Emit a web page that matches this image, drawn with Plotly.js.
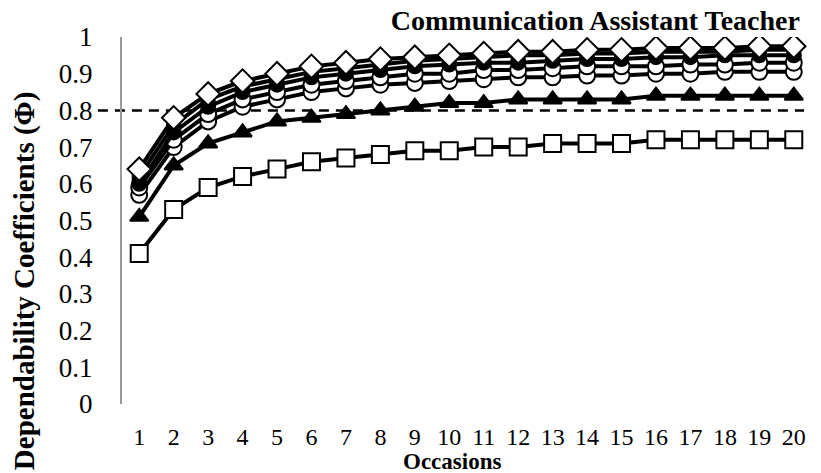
<!DOCTYPE html>
<html>
<head>
<meta charset="utf-8">
<script src="https://cdn.plot.ly/plotly-3.0.1.min.js"></script>
<style>html,body{margin:0;padding:0;background:#fff;}#chart{width:821px;height:473px;}</style>
</head>
<body>
<div id="chart"></div>
<script>
var occasions = [1,2,3,4,5,6,7,8,9,10,11,12,13,14,15,16,17,18,19,20];
var tickLabels = ["1","2","3","4","5","6","7","8","9","10","11","12","13","14","15","16","17","18","19","20"];
var seriesSquare   = [0.41,0.53,0.59,0.62,0.64,0.66,0.67,0.68,0.69,0.69,0.70,0.70,0.71,0.71,0.71,0.72,0.72,0.72,0.72,0.72];
var seriesTriangle = [0.51,0.65,0.71,0.74,0.77,0.78,0.79,0.80,0.81,0.82,0.82,0.83,0.83,0.83,0.83,0.84,0.84,0.84,0.84,0.84];
var seriesCircleA  = [0.57,0.70,0.77,0.81,0.83,0.85,0.86,0.87,0.875,0.88,0.885,0.89,0.89,0.895,0.895,0.90,0.90,0.905,0.905,0.905];
var seriesCircleB  = [0.59,0.72,0.79,0.83,0.85,0.87,0.88,0.89,0.90,0.90,0.91,0.91,0.915,0.92,0.92,0.92,0.925,0.925,0.93,0.93];
var seriesDotC     = [0.60,0.74,0.81,0.85,0.87,0.89,0.90,0.91,0.92,0.925,0.93,0.93,0.935,0.94,0.94,0.945,0.945,0.95,0.95,0.95];
var seriesDotD     = [0.62,0.76,0.83,0.865,0.885,0.905,0.915,0.925,0.935,0.94,0.945,0.95,0.95,0.955,0.955,0.96,0.96,0.96,0.965,0.965];
var seriesDiamond  = [0.64,0.78,0.845,0.88,0.90,0.92,0.93,0.94,0.945,0.95,0.955,0.96,0.96,0.965,0.965,0.97,0.97,0.97,0.975,0.975];
var yTicks = [0,0.1,0.2,0.3,0.4,0.5,0.6,0.7,0.8,0.9,1];
var yTickText = ["0","0.1","0.2","0.3","0.4","0.5","0.6","0.7","0.8","0.9","1"];
var threshold = 0.8;

function mk(y, symbol, fill, size) {
  return {
    x: occasions, y: y, type: 'scatter', mode: 'lines+markers',
    line: {color: '#000', width: 4},
    marker: {symbol: symbol, size: size, color: fill, line: {color: '#000', width: 2}},
    hoverinfo: 'skip', showlegend: false
  };
}
var data = [
  mk(seriesSquare, 'square', '#fff', 17),
  mk(seriesTriangle, 'triangle-up', '#000', 16),
  mk(seriesCircleA, 'circle', '#fff', 16),
  mk(seriesCircleB, 'circle', '#fff', 16),
  mk(seriesDotC, 'circle', '#000', 14),
  mk(seriesDotD, 'square', '#000', 13),
  mk(seriesDiamond, 'diamond', '#fff', 18)
];
var font = 'Liberation Serif, Times New Roman, serif';
var layout = {
  width: 821, height: 473,
  margin: {l: 122, r: 10, t: 37, b: 69},
  paper_bgcolor: '#fff', plot_bgcolor: '#fff',
  font: {family: font, color: '#000', size: 24},
  title: {text: '<b>Communication Assistant Teacher</b>', font: {family: font, size: 28, color: '#000'},
          x: 0.984, xanchor: 'right', xref: 'paper', y: 0.958, yanchor: 'middle', yref: 'container'},
  xaxis: {
    range: [0.5, 20.5], tickmode: 'array', tickvals: occasions, ticktext: tickLabels,
    showgrid: false, zeroline: false, showline: false, ticks: '',
    tickfont: {family: font, size: 24}, ticklabelstandoff: 16
  },
  yaxis: {
    range: [0, 1], tickmode: 'array', tickvals: yTicks, ticktext: yTickText,
    showgrid: false, zeroline: false, showline: true, linecolor: '#9a9a9a', linewidth: 2,
    ticks: '', tickfont: {family: font, size: 27}, ticklabelstandoff: 22
  },
  annotations: [{
    text: '<b>Dependability Coefficients (Φ)</b>', textangle: -90,
    xref: 'paper', yref: 'paper', x: -0.142, xanchor: 'center',
    y: (473 - 281 - 69) / 367, yanchor: 'middle', showarrow: false,
    font: {family: font, size: 29, color: '#000'}
  }, {
    text: '<b>Occasions</b>', xref: 'paper', yref: 'paper',
    x: (452 - 122) / 689, xanchor: 'center', y: -(462 - 404) / 367, yanchor: 'middle',
    showarrow: false, font: {family: font, size: 23, color: '#000'}
  }],
  shapes: [{
    type: 'line', xref: 'paper', yref: 'y', x0: -0.035, x1: 0.99, y0: threshold, y1: threshold,
    line: {color: '#000', width: 2.5, dash: '10px,7px'}, layer: 'below'
  }]
};
Plotly.newPlot('chart', data, layout, {staticPlot: true, displayModeBar: false});
</script>
</body>
</html>
